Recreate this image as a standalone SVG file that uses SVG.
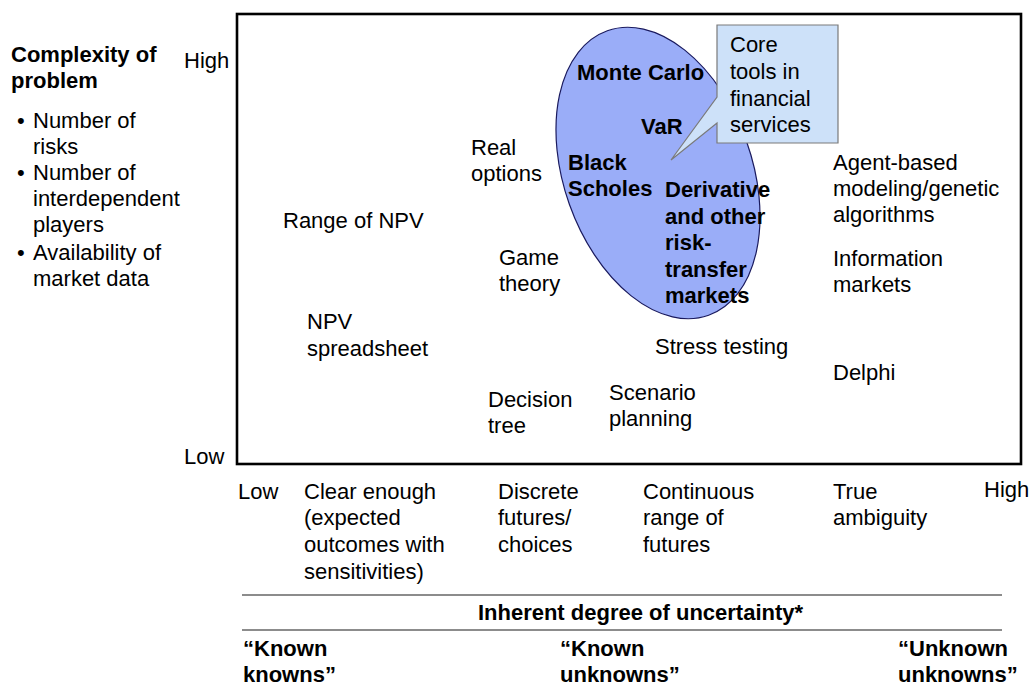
<svg xmlns="http://www.w3.org/2000/svg" width="1029" height="686" viewBox="0 0 1029 686">
  <style>
    text { font-family: "Liberation Sans", Arial, sans-serif; font-size: 22px; fill: #000; }
    .b { font-weight: bold; }
    .mid { text-anchor: middle; }
    .rule { stroke: #666; stroke-width: 1.6; }
  </style>
  <rect width="1029" height="686" fill="#fff"/>

  <!-- vertical axis description -->
  <g id="y-axis-label">
    <text class="b" x="11" y="62">Complexity of</text>
    <text class="b" x="11" y="88">problem</text>
    <text x="17" y="128">•</text><text x="33" y="128">Number of</text>
    <text x="33" y="154">risks</text>
    <text x="17" y="180">•</text><text x="33" y="180">Number of</text>
    <text x="33" y="206">interdependent</text>
    <text x="33" y="232">players</text>
    <text x="17" y="260">•</text><text x="33" y="260">Availability of</text>
    <text x="33" y="286">market data</text>
    <text x="184" y="68">High</text>
    <text x="184" y="464">Low</text>
  </g>

  <!-- plot frame -->
  <rect id="frame" x="237" y="14" width="784" height="450" fill="none" stroke="#000" stroke-width="2.6"/>

  <!-- core financial tools region -->
  <g id="core-region">
    <ellipse cx="0" cy="0" rx="94" ry="151" transform="translate(658,173) rotate(-19.6)" fill="#9aadf8" stroke="#1a1a5e" stroke-width="1.2"/>
  </g>

  <!-- callout -->
  <g id="callout">
    <path d="M717,25 H838 V143 H717 V123 L671,160 L717,97 Z" fill="#cde1f9" stroke="#7a7a7a" stroke-width="1.2"/>
    <text x="730" y="52">Core</text>
    <text x="730" y="79">tools in</text>
    <text x="730" y="105.5">financial</text>
    <text x="730" y="132">services</text>
  </g>

  <g id="monte-carlo"><text class="b" x="577" y="80">Monte Carlo</text></g>
  <g id="var"><text class="b" x="641" y="134">VaR</text></g>
  <g id="black-scholes">
    <text class="b" x="568" y="170">Black</text>
    <text class="b" x="568" y="196">Scholes</text>
  </g>
  <g id="derivatives">
    <text class="b" x="665" y="197">Derivative</text>
    <text class="b" x="665" y="223.5">and other</text>
    <text class="b" x="665" y="250">risk-</text>
    <text class="b" x="665" y="276.5">transfer</text>
    <text class="b" x="665" y="303">markets</text>
  </g>

  <g id="real-options">
    <text x="471" y="155">Real</text>
    <text x="471" y="181">options</text>
  </g>
  <g id="range-npv"><text x="283" y="228">Range of NPV</text></g>
  <g id="game-theory">
    <text x="499" y="265">Game</text>
    <text x="499" y="291">theory</text>
  </g>
  <g id="npv-spreadsheet">
    <text x="307" y="329">NPV</text>
    <text x="307" y="356">spreadsheet</text>
  </g>
  <g id="decision-tree">
    <text x="488" y="407">Decision</text>
    <text x="488" y="433">tree</text>
  </g>
  <g id="scenario-planning">
    <text x="609" y="400">Scenario</text>
    <text x="609" y="426">planning</text>
  </g>
  <g id="stress-testing"><text x="655" y="354">Stress testing</text></g>
  <g id="delphi"><text x="833" y="380">Delphi</text></g>
  <g id="agent-based">
    <text x="833" y="170">Agent-based</text>
    <text x="833" y="196">modeling/genetic</text>
    <text x="833" y="222">algorithms</text>
  </g>
  <g id="information-markets">
    <text x="833" y="266">Information</text>
    <text x="833" y="292">markets</text>
  </g>

  <!-- horizontal axis description -->
  <g id="x-axis-label">
    <text x="238" y="499">Low</text>
    <text x="304" y="499">Clear enough</text>
    <text x="304" y="525">(expected</text>
    <text x="304" y="552">outcomes with</text>
    <text x="304" y="579">sensitivities)</text>
    <text x="498" y="499">Discrete</text>
    <text x="498" y="525">futures/</text>
    <text x="498" y="552">choices</text>
    <text x="643" y="499">Continuous</text>
    <text x="643" y="525">range of</text>
    <text x="643" y="552">futures</text>
    <text x="833" y="499">True</text>
    <text x="833" y="525">ambiguity</text>
    <text x="984" y="497">High</text>
  </g>

  <g id="uncertainty-scale">
    <line class="rule" x1="242" y1="595" x2="1002" y2="595"/>
    <text class="b mid" x="640.5" y="620">Inherent degree of uncertainty*</text>
    <line class="rule" x1="242" y1="630" x2="1002" y2="630"/>
    <text class="b" x="243" y="656">“Known</text>
    <text class="b" x="243" y="682">knowns”</text>
    <text class="b" x="560" y="656">“Known</text>
    <text class="b" x="560" y="682">unknowns”</text>
    <text class="b" x="898" y="656">“Unknown</text>
    <text class="b" x="898" y="682">unknowns”</text>
  </g>
</svg>
